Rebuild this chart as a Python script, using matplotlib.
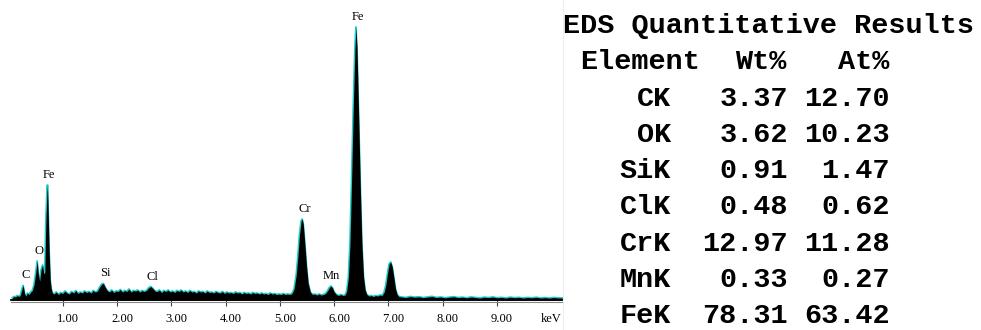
import numpy as np
import matplotlib
matplotlib.use('Agg')
import matplotlib.pyplot as plt
from matplotlib.lines import Line2D
from matplotlib.transforms import ScaledTranslation

# ---------------- spectrum data (keV, counts) ----------------
energy_kev = [
    0.07, 0.10, 0.13, 0.16, 0.19, 0.22,
    0.24, 0.26, 0.27, 0.28, 0.30, 0.32,
    0.35, 0.38, 0.41, 0.44,
    0.47, 0.50, 0.53, 0.55, 0.575, 0.60, 0.63, 0.65, 0.67, 0.69, 0.71, 0.72, 0.73, 0.75, 0.77, 0.79, 0.81,
    0.84, 0.88, 0.92, 0.96, 1.00, 1.04, 1.08, 1.12, 1.16, 1.20, 1.24, 1.28, 1.32, 1.36, 1.40, 1.44,
    1.48, 1.52, 1.56, 1.60,
    1.64, 1.68, 1.72, 1.75, 1.78, 1.82,
    1.86, 1.90, 1.94, 1.98, 2.02, 2.06, 2.10, 2.14, 2.18, 2.22, 2.26, 2.30, 2.34, 2.38, 2.42, 2.46, 2.50,
    2.54, 2.58, 2.62, 2.66, 2.70,
    2.74, 2.78, 2.82, 2.86, 2.90, 2.94, 2.98, 3.02, 3.06, 3.10, 3.14, 3.18, 3.22, 3.26, 3.30, 3.34,
    3.38, 3.42, 3.46, 3.50, 3.54, 3.58, 3.62, 3.66, 3.70, 3.74, 3.78, 3.82, 3.86, 3.90, 3.94, 3.98,
    4.02, 4.06, 4.10, 4.14, 4.18, 4.22, 4.26, 4.30, 4.34, 4.38, 4.42, 4.46, 4.50, 4.54, 4.58, 4.62,
    4.66, 4.70, 4.74, 4.78, 4.82, 4.86, 4.90, 4.94, 4.98, 5.02, 5.06, 5.10, 5.14, 5.18, 5.22,
    5.26, 5.30, 5.33, 5.36, 5.39, 5.41, 5.43, 5.46, 5.49, 5.52, 5.56,
    5.60, 5.64, 5.68, 5.72, 5.76, 5.80, 5.84,
    5.88, 5.91, 5.94, 5.97, 6.00, 6.04,
    6.08, 6.12, 6.16, 6.20,
    6.23, 6.26, 6.29, 6.32, 6.35, 6.38, 6.40, 6.42, 6.45, 6.48, 6.51, 6.54, 6.57, 6.60,
    6.64, 6.68, 6.72, 6.76, 6.80, 6.84, 6.88,
    6.92, 6.95, 6.98, 7.01, 7.04, 7.07, 7.10, 7.13, 7.16, 7.19,
    7.24, 7.32, 7.40, 7.48, 7.56, 7.64, 7.72, 7.80, 7.88, 7.96, 8.04, 8.12, 8.20, 8.28, 8.36,
    8.44, 8.52, 8.60, 8.68, 8.76, 8.84, 8.92, 9.00, 9.08, 9.16, 9.24, 9.32, 9.40, 9.48, 9.56,
    9.64, 9.72, 9.80, 9.88, 9.96, 10.04, 10.12, 10.20,
]
counts = [
    20, 35, 30, 45, 35, 50,
    90, 130, 145, 120, 60, 40,
    70, 55, 80, 95,
    150, 260, 390, 260, 190, 300, 350, 260, 280, 800, 1080, 1150, 950, 500, 200, 110, 70,
    60, 80, 55, 75, 65, 90, 70, 60, 85, 70, 95, 65, 80, 70, 90, 75,
    85, 70, 95, 80,
    90, 130, 160, 165, 130, 95,
    80, 100, 75, 90, 85, 105, 80, 95, 85, 110, 80, 95, 90, 100, 80, 95, 85,
    95, 120, 135, 115, 90,
    85, 100, 75, 95, 85, 100, 80, 90, 75, 95, 85, 100, 80, 90, 75, 95,
    80, 85, 70, 90, 80, 85, 70, 90, 75, 80, 70, 85, 75, 70, 85, 65,
    80, 70, 75, 65, 80, 70, 75, 60, 75, 65, 70, 60, 75, 65, 70, 60,
    70, 60, 65, 55, 70, 60, 65, 55, 60, 55, 65, 55, 60, 55, 65,
    110, 250, 430, 650, 790, 810, 760, 560, 340, 170, 80,
    55, 60, 50, 60, 50, 55, 65,
    95, 125, 140, 120, 80, 55,
    45, 55, 45, 50,
    90, 220, 560, 1200, 1900, 2500, 2730, 2520, 1850, 1150, 560, 230, 100, 55,
    40, 45, 35, 45, 40, 50, 45,
    80, 150, 260, 360, 380, 330, 220, 110, 55, 35,
    30, 25, 35, 28, 32, 24, 30, 36, 25, 30, 22, 28, 33, 24, 28,
    22, 30, 25, 20, 28, 24, 30, 22, 26, 20, 28, 23, 26, 20, 25,
    22, 27, 20, 24, 19, 25, 21, 20,
]

peak_labels = ['C', 'O', 'Fe', 'Si', 'Cl', 'Cr', 'Mn', 'Fe']
peak_kev = [0.277, 0.525, 0.705, 1.740, 2.622, 5.414, 5.899, 6.404]

tick_kev = [1, 2, 3, 4, 5, 6, 7, 8, 9]
tick_labels = ['1.00', '2.00', '3.00', '4.00', '5.00', '6.00', '7.00', '8.00', '9.00']
axis_unit = 'keV'

# ---------------- table data ----------------
table_title = 'EDS Quantitative Results'
table_header = ['Element', 'Wt%', 'At%']
elements = ['CK', 'OK', 'SiK', 'ClK', 'CrK', 'MnK', 'FeK']
wt_pct = [3.37, 3.62, 0.91, 0.48, 12.97, 0.33, 78.31]
at_pct = [12.70, 10.23, 1.47, 0.62, 11.28, 0.27, 63.42]

# ---------------- figure ----------------
W, H = 981, 330
fig = plt.figure(figsize=(W / 100, H / 100), dpi=100)
fig.patch.set_facecolor('white')

def fx(px):
    return px / W

def fy(py):
    return 1 - py / H

ax = fig.add_axes([fx(11), fy(300), fx(563) - fx(11), (300 - 10) / H])
ax.set_xlim((11 - 8.4) / 54.3, (563 - 8.4) / 54.3)
ax.set_ylim(0, 2900)

e = np.array(energy_kev)
c = np.array(counts)
ax.plot(e, c, color='#1ecbcb', lw=1.3, zorder=2, solid_joinstyle='round')
ax.fill_between(e, 0, c, color='black', lw=0, zorder=3)

for sp in ['top', 'left', 'right']:
    ax.spines[sp].set_visible(False)
ax.spines['bottom'].set_color('black')
ax.spines['bottom'].set_linewidth(1.3)
ax.set_yticks([])
ax.set_xticks(tick_kev)
ax.set_xticklabels(tick_labels, family='Liberation Serif', fontsize=9)
ax.tick_params(axis='x', direction='out', length=4.5, width=0.8, color='#444444', pad=5)
offset = ScaledTranslation(5 / 100, 0, fig.dpi_scale_trans)
for lab in ax.get_xticklabels():
    lab.set_transform(lab.get_transform() + offset)

fig.add_artist(Line2D([fx(11), fx(563)], [fy(302), fy(302)], color='#888888', lw=0.8))
ax.annotate(axis_unit, xy=(10.0, 0), xycoords=ax.get_xaxis_transform(),
            xytext=(0, -9.5), textcoords='offset points', family='Liberation Serif',
            fontsize=9, ha='center', va='top')

for name, kv in zip(peak_labels, peak_kev):
    near = (e > kv - 0.05) & (e < kv + 0.05)
    top = c[near].max()
    ax.annotate(name, xy=(kv, top), xytext=(1.5, 7.2), textcoords='offset points',
                ha='center', va='center', family='Liberation Serif', fontsize=9, zorder=5)

# ---------------- table ----------------
fig.add_artist(Line2D([fx(563), fx(563)], [0, 1], color='#eeeeee', lw=0.8))
tkw = dict(family='Liberation Mono', weight='bold', fontsize=20.5, va='baseline', color='black')
fig.text(fx(563), fy(33), table_title, ha='left', **tkw)
fig.text(fx(580), fy(69), table_header[0], ha='left', **tkw)
fig.text(fx(786), fy(69), table_header[1], ha='right', **tkw)
fig.text(fx(889), fy(69), table_header[2], ha='right', **tkw)
for i, (el, wt, at) in enumerate(zip(elements, wt_pct, at_pct)):
    base = 105.5 + i * 36.3
    fig.text(fx(671), fy(base), el, ha='right', **tkw)
    fig.text(fx(788), fy(base), f'{wt:.2f}', ha='right', **tkw)
    fig.text(fx(890), fy(base), f'{at:.2f}', ha='right', **tkw)

fig.savefig('out.png', dpi=100, facecolor='white')
